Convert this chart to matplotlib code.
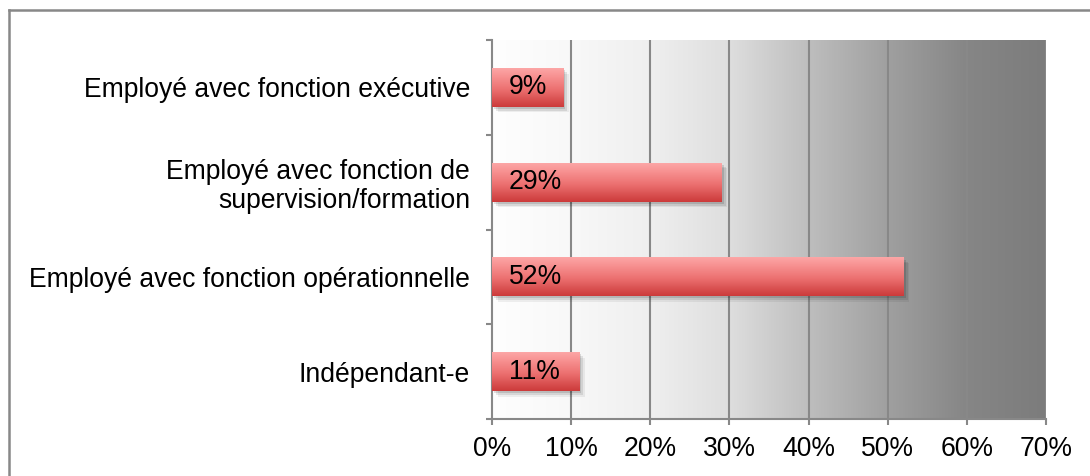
import matplotlib.pyplot as plt
import matplotlib.patheffects as pe
import numpy as np
from matplotlib.colors import LinearSegmentedColormap
from matplotlib.lines import Line2D

plt.rcParams["font.family"] = ["Liberation Sans", "DejaVu Sans"]

# data, bottom to top
categories = [
    "Indépendant-e",
    "Employé avec fonction opérationnelle",
    "Employé avec fonction de\nsupervision/formation",
    "Employé avec fonction exécutive",
]
shares = [11, 52, 29, 9]
xticks = [0, 10, 20, 30, 40, 50, 60, 70]

GREY = "#888888"
FS = 19.1

fig = plt.figure(figsize=(10.9, 4.76), dpi=100)
ax = fig.add_axes([492 / 1090, 1 - 419 / 476, 554 / 1090, 379 / 476])

# background: white -> grey gradient across the plot area
bg = LinearSegmentedColormap.from_list(
    "bg",
    [(0.0, "#fefefe"), (10 / 70, "#f8f8f8"), (20 / 70, "#efefef"),
     (30 / 70, "#dedede"), (40 / 70, "#bebebe"), (50 / 70, "#a0a0a0"),
     (60 / 70, "#868686"), (1.0, "#7c7c7c")],
)
ax.imshow(np.linspace(0, 1, 256)[None, :], cmap=bg, extent=[0, 70, -0.5, 3.5],
          aspect="auto", zorder=0)

for x in xticks[1:]:
    ax.axvline(x, color=GREY, lw=1.5, zorder=1)

# bars with a vertical pink -> red gradient and a soft drop shadow
bar_cmap = LinearSegmentedColormap.from_list(
    "bar", [(0.0, "#fca6a6"), (0.15, "#f99797"), (0.55, "#ec7070"), (1.0, "#cc3b3b")]
)
bars = ax.barh(range(len(categories)), shares, height=0.41, color="#e45c5c",
               zorder=3)
for rect in bars:
    rect.set_path_effects([
        pe.SimplePatchShadow(offset=(4, -4), shadow_rgbFace="#000000", alpha=0.06),
        pe.SimplePatchShadow(offset=(3, -3), shadow_rgbFace="#000000", alpha=0.09),
        pe.SimplePatchShadow(offset=(1.5, -1.5), shadow_rgbFace="#000000", alpha=0.12),
        pe.Normal(),
    ])
    x0, y0 = rect.get_x(), rect.get_y()
    im = ax.imshow(np.linspace(0, 1, 64)[:, None], cmap=bar_cmap,
                   extent=[x0, x0 + rect.get_width(), y0, y0 + rect.get_height()],
                   aspect="auto", origin="upper", zorder=4)
    im.set_clip_path(rect)

for i, v in enumerate(shares):
    ax.annotate(f"{v}%", xy=(0, i), xytext=(12, 0), textcoords="offset points",
                va="center", ha="left", fontsize=FS, zorder=5)

ax.set_xlim(0, 70)
ax.set_ylim(-0.5, 3.5)
ax.set_xticks(xticks)
ax.set_xticklabels([f"{x}%" for x in xticks])
ax.set_yticks(range(len(categories)))
ax.set_yticklabels(categories, linespacing=1.12)
ax.set_yticks(np.arange(-0.5, 4, 1), minor=True)

ax.tick_params(axis="y", which="major", length=0, pad=15.8, labelsize=FS)
ax.tick_params(axis="y", which="minor", length=4.5, width=1.5, color=GREY,
               direction="out")
ax.tick_params(axis="x", length=4.5, width=1.5, color=GREY, direction="out",
               pad=8, labelsize=FS)

for side in ("top", "right"):
    ax.spines[side].set_visible(False)
for side in ("left", "bottom"):
    ax.spines[side].set_color(GREY)
    ax.spines[side].set_linewidth(1.5)

# outer chart frame (only top and left edges visible in the crop)
fig.add_artist(Line2D([9 / 1090, 1], [1 - 10 / 476, 1 - 10 / 476],
                      transform=fig.transFigure, color=GREY, lw=1.8))
fig.add_artist(Line2D([9 / 1090, 9 / 1090], [0, 1 - 10 / 476],
                      transform=fig.transFigure, color=GREY, lw=1.8))

fig.savefig("out.png", dpi=100)
